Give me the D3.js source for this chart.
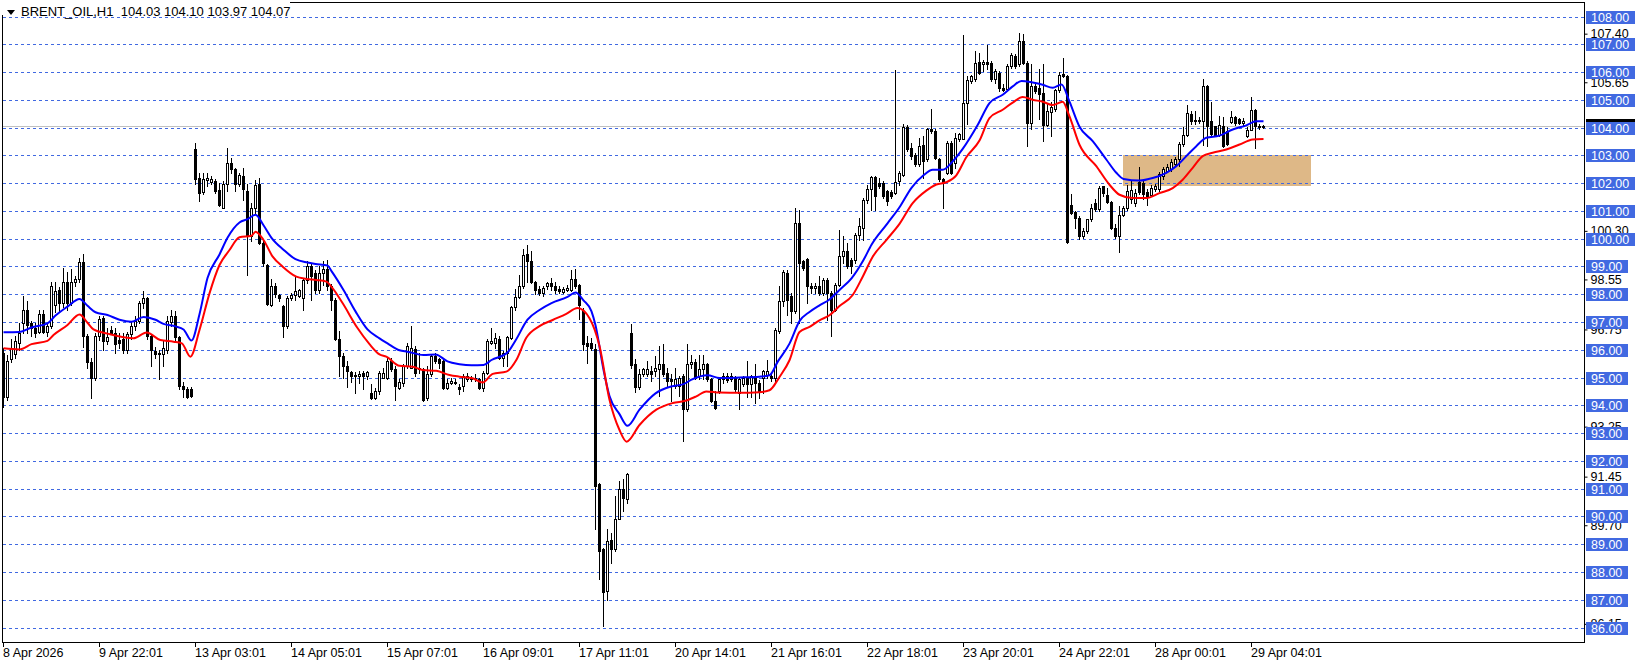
<!DOCTYPE html>
<html><head><meta charset="utf-8">
<script src="https://cdn.jsdelivr.net/npm/d3@7"></script>
<style>
html,body{margin:0;padding:0;background:#fff;overflow:hidden;}
svg{display:block;}
text{font-family:"Liberation Sans",Arial,sans-serif;font-size:12.5px;}
</style></head><body>
<svg id="chart" width="1641" height="666"></svg>
<script>
const headerTitle = "BRENT_OIL,H1";
const headerOHLC = ["104.03", "104.10", "103.97", "104.07"];

const opens = [95.9,94.3,95.65,95.85,96.25,96.95,97.45,96.95,96.8,96.65,
97.3,96.65,96.85,97.6,98.15,97.7,98.45,97.7,98.45,98.55,
99.15,96.5,95.55,95.0,96.5,97.15,96.3,96.7,96.6,96.35,
96.4,96.0,96.55,96.85,97.05,97.7,97.85,96.5,95.95,95.9,
95.85,96.0,97.0,97.2,96.45,94.7,94.6,94.6,103.24,102.2,
101.68,102.12,102.04,102.08,101.74,101.12,101.96,102.74,102.52,101.96,
102.26,101.72,100.1,101.1,101.96,99.85,99.07,97.63,98.3,97.97,
97.57,96.85,97.87,97.99,97.95,97.87,98.53,99.01,98.77,98.17,
98.77,98.9,98.3,97.81,96.37,95.77,95.41,95.2,95.1,95.05,
95.17,95.05,94.43,94.27,94.51,95.0,95.0,95.59,95.29,94.63,
94.81,95.41,95.35,96.01,95.29,95.29,94.27,95.11,95.77,95.65,
95.59,94.63,94.79,94.85,94.66,94.69,94.96,95.0,94.96,94.96,
94.63,95.17,96.25,96.25,96.37,95.71,95.89,96.43,97.55,97.91,
98.3,99.44,99.2,98.44,98.2,98.03,98.3,98.39,98.3,98.2,
98.08,98.15,98.15,98.56,98.32,97.4,96.23,96.23,96.02,91.15,
88.81,87.31,89.14,88.81,89.91,91.0,90.63,96.62,95.48,94.67,
95.12,95.12,95.24,95.24,95.3,95.48,95.15,94.94,94.7,94.7,
95.06,93.86,95.48,95.56,95.06,95.3,95.48,94.94,94.16,94.52,
94.94,95.04,94.94,95.0,94.46,94.76,95.0,94.76,95.06,94.82,
94.98,95.1,95.04,94.98,96.66,97.74,98.77,97.93,97.38,100.57,
99.19,99.27,98.29,98.23,98.29,98.05,98.53,98.05,97.44,98.35,
99.37,99.55,99.25,99.25,100.15,100.39,101.41,101.8,102.23,102.01,
102.01,101.71,101.67,101.65,102.07,102.31,104.03,103.28,103.0,102.68,
103.36,102.86,103.96,103.88,102.88,102.16,102.38,103.43,102.74,103.6,
103.6,104.9,105.68,105.76,106.36,106.28,106.36,106.32,105.76,105.98,
105.44,105.4,106.22,106.56,106.28,107.12,106.34,104.18,105.5,105.44,
105.26,104.1,104.55,104.67,105.34,105.94,105.86,101.2,100.96,100.76,
100.1,100.28,100.7,101.28,101.06,101.88,101.57,101.33,100.4,100.1,
100.84,101.1,101.42,101.3,102.05,102.02,101.69,101.57,101.78,101.78,
102.27,102.45,102.51,102.69,102.87,103.41,103.73,104.49,104.22,104.28,
104.25,105.48,104.25,104.05,103.73,104.07,103.86,104.19,104.37,104.31,
104.17,103.69,103.93,104.65,104.01,104.03];

const highs = [96.05,95.8,96.4,96.5,96.95,97.95,97.75,97.05,96.95,97.45,
97.45,96.95,98.45,98.45,98.25,98.95,98.8,98.9,98.65,99.3,
99.45,96.55,95.7,96.6,97.2,97.2,96.8,96.85,96.8,96.6,
96.6,96.65,97.05,97.2,97.75,98.1,97.9,96.55,96.1,96.0,
96.3,97.2,97.45,97.4,96.5,94.85,94.65,94.65,103.46,102.38,
102.38,102.38,102.26,102.14,102.02,102.08,103.28,102.92,102.56,102.38,
102.56,101.96,101.3,102.1,102.2,99.9,99.1,98.54,98.42,98.0,
97.63,97.93,98.05,98.65,98.2,98.6,99.19,99.13,98.89,99.01,
99.19,99.25,98.36,97.87,96.67,95.89,95.59,95.25,95.2,95.23,
95.23,95.25,94.76,94.63,95.24,95.35,95.71,95.71,95.41,94.93,
95.47,96.25,96.85,96.13,95.89,95.35,95.41,95.83,95.89,95.71,
95.65,94.93,94.99,94.93,94.75,95.11,95.17,95.05,95.11,95.0,
95.23,96.37,96.79,96.61,96.49,95.95,96.49,97.58,98.2,98.71,
99.62,99.76,99.56,98.48,98.29,98.29,98.44,98.6,98.44,98.29,
98.27,98.32,98.87,98.9,98.36,97.5,96.49,96.43,96.2,91.21,
88.87,89.55,89.41,90.73,91.27,91.33,91.55,96.92,95.66,95.3,
95.36,95.6,95.42,95.78,96.14,96.2,95.36,95.12,95.36,95.06,
95.12,96.2,95.8,95.66,95.8,95.8,95.54,95.0,94.52,95.0,
95.18,95.16,95.16,95.04,95.0,95.06,95.6,95.1,95.48,94.92,
95.28,95.64,95.16,96.78,98.28,98.89,98.89,98.05,101.11,101.05,
99.25,99.31,98.41,98.41,98.65,98.59,98.59,98.11,98.41,100.33,
100.09,99.85,99.31,100.21,100.75,101.47,101.95,102.25,102.25,102.19,
102.07,101.77,101.77,106.07,102.43,104.12,104.1,103.46,103.1,103.64,
103.7,104.0,104.66,103.94,102.92,102.2,103.52,103.52,103.82,103.82,
107.32,105.86,105.88,106.76,106.7,106.44,106.96,106.4,106.1,106.04,
105.56,106.28,106.68,106.64,107.42,107.36,106.4,106.28,105.56,106.1,
106.28,104.85,104.92,105.4,106.0,106.5,105.9,101.6,101.0,100.82,
100.4,100.72,101.24,101.42,101.9,101.9,101.84,101.37,100.52,101.18,
101.18,101.93,102.08,101.78,102.57,102.14,101.78,101.93,101.97,102.39,
102.57,102.69,102.87,102.93,103.47,104.01,104.8,104.61,104.61,104.37,
105.76,105.52,104.92,104.07,104.43,104.37,104.01,104.61,104.43,104.34,
104.34,104.01,105.1,104.67,104.13,104.10];

const lows = [93.95,94.2,95.55,95.7,96.0,96.6,96.6,96.5,96.45,96.6,
96.6,96.5,96.8,97.35,97.4,97.55,97.45,97.6,98.3,98.45,
96.1,95.35,94.25,94.9,96.35,96.0,96.2,96.55,95.9,96.05,
95.9,95.9,96.4,96.7,96.95,97.5,96.4,95.4,95.7,94.95,
95.4,95.9,96.85,96.3,94.6,94.3,94.25,94.3,101.96,101.36,
101.6,101.9,101.96,101.66,101.18,101.1,101.72,102.38,101.72,101.9,
101.4,98.7,99.9,100.9,99.8,99.03,97.6,97.57,97.9,97.75,
96.47,96.8,97.8,97.81,97.9,97.45,98.41,97.8,98.05,98.05,
98.35,98.17,97.45,96.35,95.07,94.97,94.67,94.85,94.45,94.8,
94.6,94.95,94.22,94.22,94.39,94.99,94.93,95.23,94.2,94.57,
94.69,95.35,95.35,95.05,95.17,94.15,94.2,95.05,95.53,95.35,
94.57,94.57,94.75,94.75,94.39,94.51,94.87,94.87,94.87,94.57,
94.51,95.11,96.19,96.07,95.65,95.41,95.41,96.37,97.45,97.87,
98.24,98.44,98.41,98.0,97.99,97.93,98.2,98.17,98.05,98.03,
98.03,98.12,98.12,98.24,97.1,96.0,95.53,95.99,89.53,87.73,
86.05,87.0,88.33,88.75,89.89,90.19,90.49,95.36,94.48,94.58,
95.06,95.06,94.88,95.06,94.34,95.06,94.7,94.16,94.64,94.34,
92.71,93.8,95.36,94.94,94.96,94.94,94.88,94.12,93.88,94.46,
94.82,94.84,94.88,94.52,93.86,94.7,94.3,94.3,94.1,94.26,
94.44,95.0,94.86,94.86,96.6,97.56,97.27,96.96,97.32,96.96,
98.89,97.68,98.05,98.05,97.99,97.99,97.08,96.48,97.38,98.29,
99.13,98.95,98.77,99.13,99.97,99.97,101.29,101.05,101.05,101.83,
101.47,101.2,101.47,101.6,101.95,102.25,103.16,102.86,102.62,102.62,
102.2,102.8,103.82,102.86,102.08,101.1,102.32,102.32,102.56,103.52,
103.58,104.14,105.62,105.68,105.92,106.04,106.1,105.68,105.62,105.32,
105.32,105.36,106.16,106.16,106.22,106.3,103.34,103.94,105.26,104.3,
103.52,104.05,103.7,104.6,105.28,105.82,99.86,100.88,100.4,99.98,
100.04,100.22,100.64,101.0,101.0,101.54,101.3,100.34,100.04,99.52,
100.82,101.02,101.3,101.18,101.6,101.42,101.2,101.52,101.72,101.72,
102.15,102.39,102.45,102.63,102.63,103.35,103.71,104.13,104.13,104.17,
103.37,103.35,103.69,103.69,103.69,103.29,103.37,104.17,104.1,104.13,
104.1,103.65,103.9,103.25,103.95,103.97];

const closes = [94.3,95.6,96.05,96.3,96.6,97.45,96.9,96.8,96.6,97.3,
96.65,96.85,98.3,98.1,97.7,98.45,97.7,98.45,98.55,99.15,
96.5,95.55,95.0,96.5,97.1,96.3,96.45,96.6,96.2,96.25,
96.0,96.55,96.85,97.05,97.7,97.85,96.5,96.0,95.85,95.85,
96.05,97.05,97.2,96.45,94.7,94.6,94.3,94.35,102.14,101.66,
102.14,102.17,102.14,101.72,101.2,101.96,102.74,102.5,101.96,102.28,
101.78,100.1,101.1,101.95,99.85,99.13,97.65,98.3,98.0,97.87,
96.85,97.87,97.99,98.11,98.17,98.53,99.01,98.65,98.17,98.77,
98.9,98.3,97.81,96.4,95.77,95.41,95.23,95.05,95.05,95.13,
95.05,95.2,94.27,94.51,95.15,95.15,95.59,95.29,94.69,94.84,
95.41,96.13,96.07,95.17,95.35,94.2,95.11,95.77,95.59,95.53,
94.63,94.81,94.87,94.81,94.6,95.05,95.05,94.93,95.0,94.63,
95.17,96.31,96.31,96.43,95.71,95.89,96.47,97.55,97.91,98.3,
99.4,99.2,98.44,98.15,98.03,98.24,98.39,98.3,98.15,98.12,
98.2,98.21,98.56,98.3,97.6,96.2,96.13,96.07,91.1,88.75,
87.27,89.11,88.83,89.91,91.0,90.67,91.51,95.44,94.67,95.12,
95.3,95.3,95.12,95.36,95.48,95.12,94.88,94.88,94.96,95.0,
93.86,95.5,95.56,95.0,95.3,95.48,94.94,94.16,93.92,94.94,
95.06,94.92,95.06,94.58,94.94,95.0,94.78,95.04,94.82,94.5,
95.22,95.22,94.98,96.72,97.74,98.79,97.81,97.38,100.57,99.13,
98.95,98.29,98.23,98.29,98.05,98.53,98.05,97.44,98.35,99.37,
99.55,99.01,99.01,100.15,100.45,101.41,101.8,102.23,101.53,101.89,
101.53,101.35,101.55,102.04,102.35,104.03,103.22,102.98,102.68,103.34,
102.8,103.96,103.88,102.92,102.14,102.02,103.46,102.38,103.64,103.76,
104.9,105.7,105.84,106.34,105.98,106.36,106.28,105.76,106.04,105.44,
105.36,106.22,106.6,106.22,107.12,106.34,104.18,105.5,105.32,105.2,
104.08,104.6,104.73,105.34,105.9,105.86,99.88,100.92,100.76,100.1,
100.28,100.7,101.12,101.06,101.84,101.66,101.33,100.4,100.1,100.84,
101.12,101.72,101.76,101.66,101.69,101.6,101.52,101.84,101.88,102.33,
102.51,102.57,102.75,102.87,103.41,103.73,104.53,104.22,104.28,104.22,
105.48,104.07,103.77,103.71,104.1,103.35,103.41,104.37,104.17,104.17,
104.25,103.93,104.65,104.07,104.07,104.07];

// moving average on highs (blue) and on lows (red): [bar, price]
const maHighLine = [[0,96.65],[4,96.66],[7,96.82],[11,96.97],[13,97.25],[16,97.57],[19,97.85],[21,97.6],[23,97.37],[26,97.27],[29,97.1],[32,97.03],[35,97.2],[38,97.1],[40,96.95],[43,96.86],[45,96.75],[47,96.35],[49,97.3],[51,98.6],[54,99.45],[56,100.05],[59,100.6],[61,100.72],[63,100.88],[65,100.5],[67,100.05],[70,99.62],[73,99.28],[76,99.16],[78,99.11],[81,99.05],[82,98.85],[85,98.17],[88,97.4],[91,96.75],[94,96.43],[96,96.25],[99,96.0],[101,95.95],[105,95.83],[108,95.85],[111,95.6],[114,95.5],[117,95.46],[120,95.47],[122,95.65],[126,95.92],[128,96.35],[131,97.1],[134,97.45],[137,97.7],[141,97.92],[143,98.08],[145,97.8],[147,97.4],[148,96.9],[150,95.3],[151.5,94.35],[154,93.7],[156,93.28],[159,93.86],[163,94.45],[167,94.7],[170,94.78],[172,94.94],[176,95.1],[179,95.0],[184,95.02],[189,95.05],[191.5,95.1],[193.6,95.6],[196.5,96.24],[199,97.05],[201.5,97.38],[204,97.62],[206.5,97.83],[209,98.17],[212,98.59],[215,99.25],[217,99.8],[221,100.57],[224,101.15],[227,101.85],[230,102.3],[232.3,102.5],[234.8,102.5],[237.3,102.8],[239.8,103.25],[243.5,104.1],[246.5,104.9],[249.8,105.2],[252.3,105.5],[254.5,105.7],[257.3,105.64],[259.8,105.56],[262.3,105.45],[264.5,105.57],[266.5,104.95],[269,104.05],[272.3,103.53],[275.7,102.87],[278.2,102.39],[280,102.17],[284,102.11],[287.3,102.2],[290.7,102.39],[293.2,102.63],[295.7,102.99],[298.2,103.35],[300.7,103.65],[304,103.73],[307.3,103.95],[310.7,104.1],[313.2,104.25],[315,104.25]];

const maLowLine = [[0,96.07],[4,96.03],[7,96.22],[11,96.34],[12.5,96.55],[16,96.91],[19,97.29],[21,96.99],[22.5,96.75],[26,96.6],[32.5,96.43],[35.8,96.64],[39.2,96.37],[42.5,96.31],[44.6,96.25],[46.7,95.77],[49,96.73],[51.5,98.05],[54,99.07],[56.5,99.61],[59,100.07],[62,100.12],[63,100.27],[65,99.97],[67.3,99.37],[69.8,99.01],[73.2,98.65],[75.7,98.57],[78.2,98.53],[80.7,98.47],[82.3,98.23],[84.8,97.69],[88.5,96.8],[91.5,96.22],[94,95.85],[95.7,95.77],[99,95.44],[102.3,95.41],[104.8,95.29],[108.2,95.26],[111.5,95.11],[114,95.05],[117.3,94.99],[119.8,94.84],[122.3,95.15],[125.7,95.23],[128.2,95.65],[130.7,96.45],[134,96.87],[137.3,97.09],[140.7,97.31],[143.5,97.52],[146.5,97.15],[149,96.15],[151.5,94.22],[154,93.13],[155.8,92.71],[159,93.31],[163.2,93.86],[167.3,94.1],[170.7,94.19],[173.2,94.34],[175.7,94.52],[179,94.48],[184,94.47],[189,94.49],[191.5,94.56],[194,95.04],[196.5,95.64],[199,96.66],[201.5,96.84],[204,97.08],[206.5,97.26],[209,97.59],[212.3,97.99],[214.8,98.65],[217.3,99.37],[220.7,99.97],[224,100.55],[227.3,101.3],[230.7,101.75],[233.2,101.97],[235.7,102.05],[238.2,102.3],[240.7,102.95],[244,103.55],[246.5,104.36],[249.8,104.66],[252.3,104.92],[254.8,105.12],[257.3,105.02],[259.8,104.95],[262.3,104.83],[264.8,104.95],[266.5,104.42],[269,103.4],[273.2,102.63],[276.5,101.96],[279,101.6],[282.3,101.48],[285.7,101.48],[289,101.66],[292.3,101.84],[294.8,102.14],[297.3,102.57],[299.8,102.99],[302.3,103.11],[305.7,103.23],[309,103.41],[312.3,103.59],[315,103.61]];

const timeTickBars = [0,24,48,72,96,120,144,168,192,216,240,264,288,312];
const timeTickLabels = ["8 Apr 2026","9 Apr 22:01","13 Apr 03:01","14 Apr 05:01","15 Apr 07:01","16 Apr 09:01","17 Apr 11:01","20 Apr 14:01","21 Apr 16:01","22 Apr 18:01","23 Apr 20:01","24 Apr 22:01","28 Apr 00:01","29 Apr 04:01"];
// price-scale ticks that are visible beside the level labels
const priceScaleTicks = [107.40,105.65,100.30,98.55,96.75,93.25,91.45,89.70,86.15];
const levelPrices = [108,107,106,105,104,103,102,101,100,99,98,97,96,95,94,93,92,91,90,89,88,87,86];
const zoneBars = [280, 327];
const zonePrices = [101.9, 103.0];
const bidPrice = 104.07;

// ---------- drawing ----------
const svg = d3.select("#chart");
const plotL = 2, plotR = 1584, plotT = 2, plotB = 642;
const n = Math.min(opens.length, highs.length, lows.length, closes.length);

const x = d3.scaleLinear().domain([0, 400]).range([3.5, 3.5 + 4 * 400]);
const y = d3.scaleLinear().domain([86, 108]).range([628, 17]);
const px = v => Math.floor(x(v));
const py = v => Math.floor(y(v));

svg.append("rect").attr("width", 1641).attr("height", 666).attr("fill", "#fff");

const plot = svg.append("g");
// zone rectangle
plot.append("rect")
  .attr("x", px(zoneBars[0])).attr("y", py(zonePrices[1]))
  .attr("width", px(zoneBars[1]) - px(zoneBars[0]))
  .attr("height", py(zonePrices[0]) - py(zonePrices[1]))
  .attr("fill", "#deb887");

// dashed level lines
plot.selectAll("line.lvl").data(levelPrices).enter().append("line")
  .attr("class", "lvl")
  .attr("x1", plotL + 1).attr("x2", plotR)
  .attr("y1", d => py(d) + 0.5).attr("y2", d => py(d) + 0.5)
  .attr("stroke", "#4169e1").attr("stroke-width", 1)
  .attr("stroke-dasharray", "3,3").attr("shape-rendering", "crispEdges");

// bid line
plot.append("line")
  .attr("x1", plotL + 1).attr("x2", plotR)
  .attr("y1", py(bidPrice) + 0.5).attr("y2", py(bidPrice) + 0.5)
  .attr("stroke", "#c0c0c0").attr("shape-rendering", "crispEdges");

// candles
const idx = d3.range(n);
const cg = plot.append("g").attr("shape-rendering", "crispEdges");
cg.selectAll("line.wick").data(idx).enter().append("line")
  .attr("x1", i => px(i) + 0.5).attr("x2", i => px(i) + 0.5)
  .attr("y1", i => py(Math.max(highs[i], opens[i], closes[i])))
  .attr("y2", i => py(Math.min(lows[i], opens[i], closes[i])) + 1)
  .attr("stroke", "#000");
cg.selectAll("rect.body").data(idx).enter().append("rect")
  .attr("x", i => closes[i] >= opens[i] ? px(i) - 0.5 : px(i) - 1)
  .attr("y", i => {
    const t = py(Math.max(opens[i], closes[i]));
    return closes[i] >= opens[i] ? t + 0.5 : t;
  })
  .attr("width", i => closes[i] >= opens[i] ? 2 : 3)
  .attr("height", i => {
    const t = py(Math.max(opens[i], closes[i])), b = py(Math.min(opens[i], closes[i]));
    return closes[i] >= opens[i] ? Math.max(0, b - t) : Math.max(1, b - t + 1);
  })
  .attr("fill", i => closes[i] >= opens[i] ? "#fff" : "#000")
  .attr("stroke", i => closes[i] >= opens[i] ? "#000" : "none");

// moving averages
const maLine = d3.line().x(d => x(d[0])).y(d => y(d[1])).curve(d3.curveMonotoneX);
plot.append("path").attr("d", maLine(maHighLine)).attr("fill", "none")
  .attr("stroke", "#0000ff").attr("stroke-width", 2);
plot.append("path").attr("d", maLine(maLowLine)).attr("fill", "none")
  .attr("stroke", "#ff0000").attr("stroke-width", 2);

// frame
svg.append("rect").attr("x", plotL + 0.5).attr("y", plotT + 0.5)
  .attr("width", plotR - plotL).attr("height", plotB - plotT)
  .attr("fill", "none").attr("stroke", "#000").attr("shape-rendering", "crispEdges");

// bottom time axis
const xAxis = d3.axisBottom(x).tickValues(timeTickBars)
  .tickFormat((d, i) => timeTickLabels[i]).tickSize(4).tickSizeOuter(0);
const gx = svg.append("g").attr("transform", `translate(0,${plotB + 0.5})`).call(xAxis);
gx.select(".domain").remove();
gx.selectAll(".tick line").attr("stroke", "#000").attr("shape-rendering", "crispEdges")
  .attr("transform", "translate(-0.5,0)");
gx.selectAll(".tick text").attr("text-anchor", "start").attr("x", -1).attr("y", 6)
  .attr("dy", "0.71em").attr("fill", "#000")
  .style("font-family", '"Liberation Sans",Arial,sans-serif').style("font-size", "12.5px");

// right price scale
const yAxis = d3.axisRight(y).tickValues(priceScaleTicks).tickFormat(d3.format(".2f"))
  .tickSize(3).tickSizeOuter(0);
const gy = svg.append("g").attr("transform", `translate(${plotR + 0.5},0)`).call(yAxis);
gy.select(".domain").remove();
gy.selectAll(".tick line").attr("stroke", "#000");
gy.selectAll(".tick text").attr("x", 6).attr("fill", "#000")
  .style("font-family", '"Liberation Sans",Arial,sans-serif').style("font-size", "12.5px");

// bid price marker (black, mostly behind the 104.00 label)
const bidY = py(bidPrice);
svg.append("rect").attr("x", plotR + 2).attr("y", bidY - 7).attr("width", 49).attr("height", 13).attr("fill", "#000");

// level labels (blue boxes)
const lg = svg.append("g");
levelPrices.forEach(p => {
  const yy = py(p);
  const g = lg.append("g");
  const r = g.append("rect").attr("x", plotR + 2).attr("y", yy - 6).attr("height", 13).attr("fill", "#4169e1");
  const t = g.append("text").attr("x", plotR + 7).attr("y", yy + 4.5).attr("fill", "#fff").text(d3.format(".2f")(p));
  const w = t.node().getComputedTextLength();
  r.attr("width", Math.round(w + 11));
});

// header
svg.append("rect").attr("x", 0).attr("y", 0).attr("width", 290).attr("height", 15).attr("fill", "#fff");
svg.append("path").attr("d", "M7,10 L15,10 L11,15 Z").attr("fill", "#000");
svg.append("text").attr("x", 21).attr("y", 16).attr("fill", "#000")
  .style("font-size", "13px").style("white-space", "pre")
  .text(headerTitle + "  " + headerOHLC.join(" "));
</script>
</body></html>
